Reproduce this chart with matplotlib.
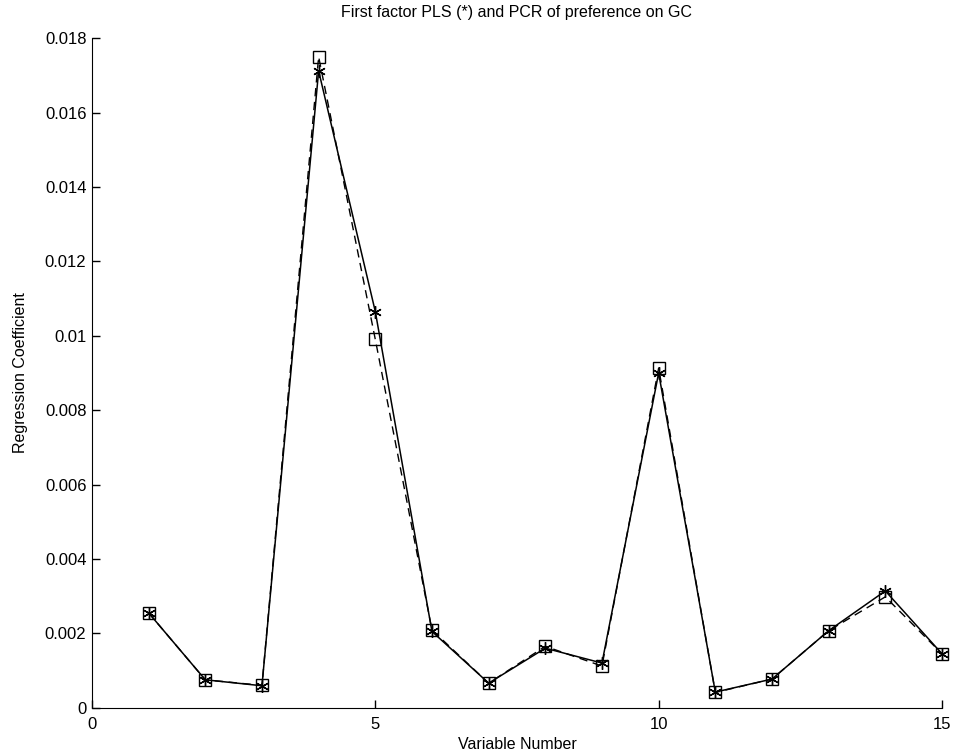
"""Regression coefficients: first factor PLS (*) vs PCR (squares)."""

import matplotlib
matplotlib.use("Agg")
import matplotlib.pyplot as plt

plt.rcParams["font.family"] = ["Liberation Sans", "DejaVu Sans"]

variables = list(range(1, 16))
pls_coef = [0.00255, 0.00075, 0.00059, 0.01712, 0.01065, 0.00205, 0.00066,
            0.00160, 0.00120, 0.00900, 0.00042, 0.00077, 0.00207, 0.00314, 0.00145]
pcr_coef = [0.00255, 0.00075, 0.00060, 0.01750, 0.00990, 0.00209, 0.00066,
            0.00165, 0.00112, 0.00913, 0.00041, 0.00077, 0.00207, 0.00298, 0.00145]

x_ticks = [0, 5, 10, 15]
y_ticks = [0, 0.002, 0.004, 0.006, 0.008, 0.01, 0.012, 0.014, 0.016, 0.018]
y_tick_labels = ["0", "0.002", "0.004", "0.006", "0.008", "0.01",
                 "0.012", "0.014", "0.016", "0.018"]

fig = plt.figure(figsize=(9.54, 7.54), dpi=100)
ax = fig.add_axes([0.0964, 0.0614, 0.891, 0.888])

# PLS: solid line with asterisks; PCR: dashed line with open squares
ax.plot(variables, pls_coef, color="black", linestyle="-", linewidth=1.1,
        marker=(6, 2, 0), markersize=9, markeredgewidth=1.0, clip_on=False)
ax.plot(variables, pcr_coef, color="black", linestyle=(0, (6, 4)), linewidth=1.0,
        marker="s", markersize=8, markerfacecolor="none",
        markeredgecolor="black", markeredgewidth=1.0, clip_on=False)

ax.set_xlim(0, 15)
ax.set_ylim(0, 0.018)
ax.set_xticks(x_ticks)
ax.set_yticks(y_ticks)
ax.set_yticklabels(y_tick_labels)
ax.tick_params(direction="in", length=6, labelsize=12, width=1.0)
ax.tick_params(axis="y", pad=4)
ax.tick_params(axis="x", pad=7)
ax.spines["top"].set_visible(False)
ax.spines["right"].set_visible(False)

ax.set_xlabel("Variable Number", fontsize=11.5, labelpad=3)
ax.set_ylabel("Regression Coefficient", fontsize=11.5, labelpad=12)
ax.set_title("First factor PLS (*) and PCR of preference on GC", fontsize=11.5, pad=15)

fig.savefig("out.png", dpi=100)
plt.close(fig)
